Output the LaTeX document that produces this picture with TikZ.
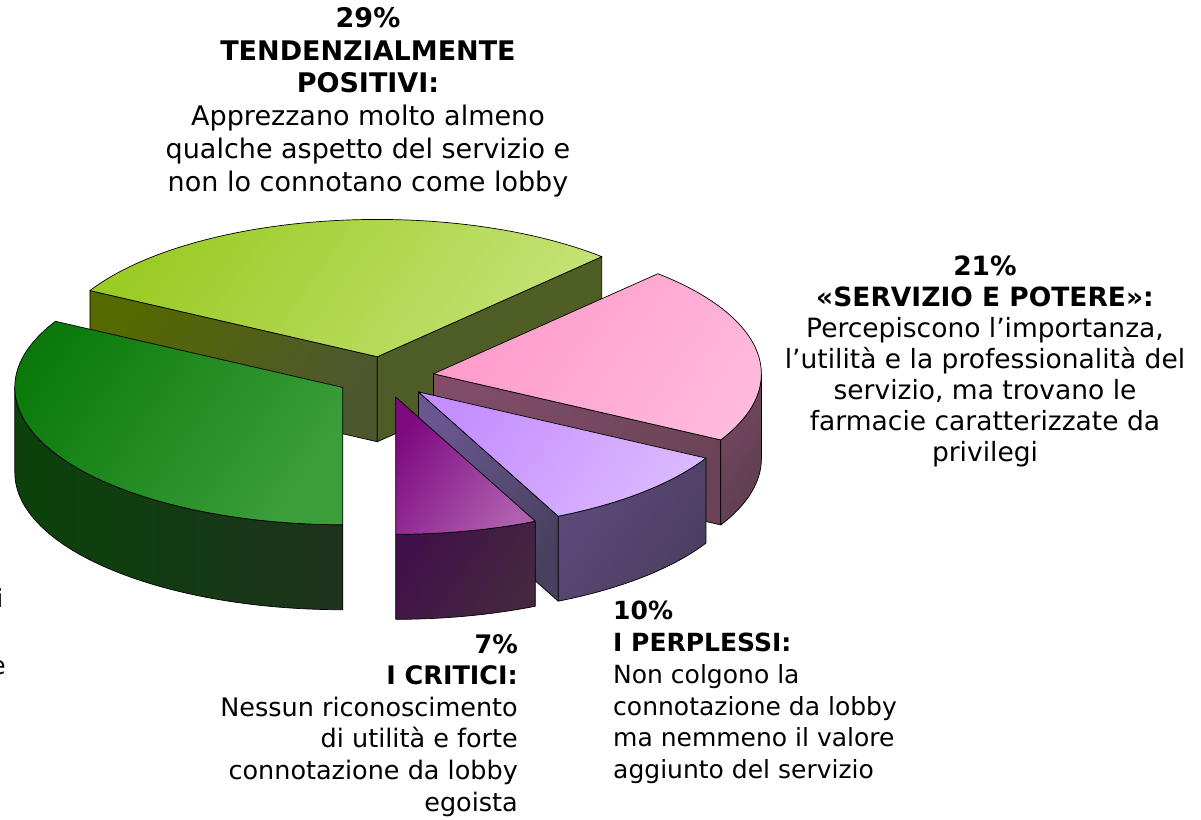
\documentclass[tikz,border=0pt]{standalone}
\usepackage{fontspec}
\setmainfont{DejaVu Sans}
\usetikzlibrary{calc}
\definecolor{dgTA}{HTML}{087708}\definecolor{dgTB}{HTML}{3A9E3A}
\definecolor{dgWA}{HTML}{0A420A}\definecolor{dgWB}{HTML}{1D331D}
\definecolor{lgTA}{HTML}{9BCB25}\definecolor{lgTB}{HTML}{C3E274}
\definecolor{lgLA}{HTML}{566800}\definecolor{lgLB}{HTML}{4C5730}
\definecolor{lgRA}{HTML}{4E5D28}\definecolor{lgRB}{HTML}{4E5E22}
\definecolor{pkTA}{HTML}{FF9AC9}\definecolor{pkTB}{HTML}{FFBADD}
\definecolor{pkFA}{HTML}{804C68}\definecolor{pkFB}{HTML}{6A4456}
\definecolor{pkWA}{HTML}{784862}\definecolor{pkWB}{HTML}{5C3E4E}
\definecolor{lvTA}{HTML}{C48EFF}\definecolor{lvTB}{HTML}{DCB8FF}
\definecolor{lvFA}{HTML}{6A5690}\definecolor{lvFB}{HTML}{48405E}
\definecolor{lvWA}{HTML}{5E4A7C}\definecolor{lvWB}{HTML}{4A3E60}
\definecolor{puTA}{HTML}{7E0A80}\definecolor{puTB}{HTML}{B060B0}
\definecolor{puWA}{HTML}{40104A}\definecolor{puWB}{HTML}{45283F}
\begin{document}
\begin{tikzpicture}[x=1pt,y=1pt,
  face/.style={draw=black, line width=0.7pt, line join=round},
  grad/.style 2 args={top color=#1, bottom color=#2, shading angle=55},
  rim/.style={x radius=328pt, y radius=137.3pt},
  lbl/.style={inner sep=0pt}]
\useasboundingbox (0,0) rectangle (1201,819);
\fill[white] (0,0) rectangle (1201,819);
\def\H{85}
\coordinate (C) at (385,442);
% ---------- light green (29%) ----------
\coordinate (O2) at ($(C)+(99:49pt and 20.51pt)$);
\coordinate (O2a) at ($(O2)+(46.8:328pt and 137.3pt)$);
\coordinate (O2b) at ($(O2)+(151.2:328pt and 137.3pt)$);
\path[face, grad={lgLA}{lgLB}] (O2) -- (O2b) -- ($(O2b)+(0,-\H)$) -- ($(O2)+(0,-\H)$) -- cycle;
\path[face, grad={lgRA}{lgRB}] (O2) -- (O2a) -- ($(O2a)+(0,-\H)$) -- ($(O2)+(0,-\H)$) -- cycle;
\path[face, grad={lgTA}{lgTB}] (O2) -- (O2a) arc[rim, start angle=46.8, end angle=151.2] -- cycle;
% ---------- pink (21%) ----------
\coordinate (O3) at ($(C)+(9:49pt and 20.51pt)$);
\coordinate (O3a) at ($(O3)+(-28.8:328pt and 137.3pt)$);
\path[face, grad={pkFA}{pkFB}] (O3) -- (O3a) -- ($(O3a)+(0,-\H)$) -- ($(O3)+(0,-\H)$) -- cycle;
\path[face, grad={pkWA}{pkWB}] (O3a) arc[rim, start angle=-28.8, end angle=0] -- ++(0,-\H) arc[rim, start angle=0, end angle=-28.8] -- cycle;
\path[face, grad={pkTA}{pkTB}] (O3) -- (O3a) arc[rim, start angle=-28.8, end angle=46.8] -- cycle;
% ---------- dark green (33%) ----------
\coordinate (O1) at ($(C)+(210.6:49pt and 20.51pt)$);
\coordinate (O1a) at ($(O1)+(151.2:328pt and 137.3pt)$);
\coordinate (O1l) at ($(O1)+(180:328pt and 137.3pt)$);
\path[face, left color=dgWA, right color=dgWB] (O1l) arc[rim, start angle=180, end angle=270] -- ++(0,-\H) arc[rim, start angle=270, end angle=180] -- cycle;
\path[face, grad={dgTA}{dgTB}] (O1) -- (O1a) arc[rim, start angle=151.2, end angle=270] -- cycle;
% ---------- lavender (10%) ----------
\coordinate (O4) at ($(C)+(-46.8:49pt and 20.51pt)$);
\coordinate (O4a) at ($(O4)+(-64.8:328pt and 137.3pt)$);
\path[face, grad={lvFA}{lvFB}] (O4) -- (O4a) -- ($(O4a)+(0,-\H)$) -- ($(O4)+(0,-\H)$) -- cycle;
\path[face, grad={lvWA}{lvWB}] (O4a) arc[rim, start angle=-64.8, end angle=-28.8] -- ++(0,-\H) arc[rim, start angle=-28.8, end angle=-64.8] -- cycle;
\path[face, grad={lvTA}{lvTB}] (O4) -- (O4a) arc[rim, start angle=-64.8, end angle=-28.8] -- cycle;
% ---------- purple (7%) ----------
\coordinate (O5) at ($(C)+(-77.4:49pt and 20.51pt)$);
\coordinate (O5a) at ($(O5)+(-90:328pt and 137.3pt)$);
\path[face, grad={puWA}{puWB}] (O5a) arc[rim, start angle=-90, end angle=-64.8] -- ++(0,-\H) arc[rim, start angle=-64.8, end angle=-90] -- cycle;
\path[face, grad={puTA}{puTB}] (O5) -- (O5a) arc[rim, start angle=-90, end angle=-64.8] -- cycle;
% ---------- labels ----------
\node[lbl, align=center, anchor=north, font=\fontsize{27}{32.8}\selectfont] (lTop) at (368,812)
  {\textbf{29\%}\\\textbf{TENDENZIALMENTE}\\\textbf{POSITIVI:}\\Apprezzano molto almeno\\qualche aspetto del servizio e\\non lo connotano come lobby};
\node[lbl, align=center, anchor=north, font=\fontsize{26.5}{31}\selectfont] (lRight) at (985,563)
  {\textbf{21\%}\\\textbf{«SERVIZIO E POTERE»:}\\Percepiscono l’importanza,\\l’utilità e la professionalità del\\servizio, ma trovano le\\farmacie caratterizzate da\\privilegi};
\node[lbl, align=left, anchor=north west, font=\fontsize{25}{31.8}\selectfont] (lPerp) at (613,218)
  {\textbf{10\%}\\\textbf{I PERPLESSI:}\\Non colgono la\\connotazione da lobby\\ma nemmeno il valore\\aggiunto del servizio};
\node[lbl, align=right, anchor=north east, font=\fontsize{25.5}{31.6}\selectfont] (lCrit) at (518,185)
  {\textbf{7\%}\\\textbf{I CRITICI:}\\Nessun riconoscimento\\di utilità e forte\\connotazione da lobby\\egoista};
\node[lbl, anchor=base east, font=\fontsize{25}{30}\selectfont] (fragI) at (3.5,211) {i};
\node[lbl, anchor=base east, font=\fontsize{25}{30}\selectfont] (fragE) at (6,144) {e};
\end{tikzpicture}
\end{document}
